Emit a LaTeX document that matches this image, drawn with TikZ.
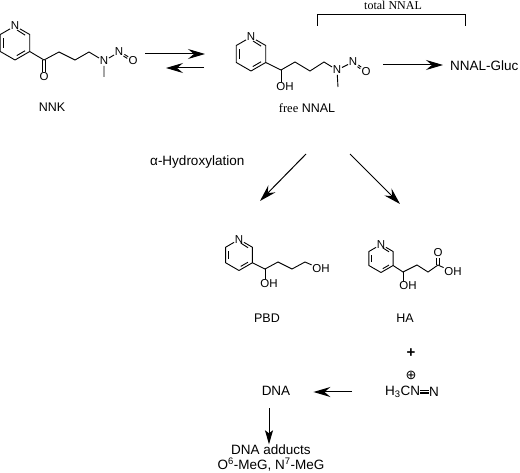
\documentclass[tikz,border=0pt]{standalone}
\usepackage{fontspec}
\usetikzlibrary{arrows.meta}
\setmainfont{Liberation Sans}
\newfontfamily\timesfont{Liberation Serif}
\newfontfamily\signfont{DejaVu Sans}
\begin{document}
\begin{tikzpicture}[
        x=1pt, y=-1pt,
        atom/.style={inner sep=0.6pt, font=\fontsize{11.5}{12}\selectfont},
        label/.style={inner sep=0pt, font=\fontsize{13.5}{15.5}\selectfont, align=center},
        smalllabel/.style={inner sep=0pt, font=\fontsize{12.5}{15}\selectfont},
        bond/.style={line width=0.9pt},
        arrow/.style={line width=1pt, -{Stealth[length=17pt, width=10pt, inset=6pt]}},
        smallarrow/.style={line width=0.9pt, -{Stealth[length=14pt, width=8pt, inset=3pt]}},
        pyridine/.pic={
            \node[atom] (N) at (-90:1) {N};
            \coordinate (C2) at (-30:1);
            \coordinate (C3) at (30:1);
            \coordinate (C4) at (90:1);
            \coordinate (C5) at (150:1);
            \coordinate (C6) at (-150:1);
            \draw[bond, line join=round] (N) -- (C2) -- (C3) -- (C4) -- (C5) -- (C6) -- (N);
            \draw[bond, shorten <=1pt, shorten >=2pt] (-85:0.8) -- (-30:0.8);
            \draw[bond, shorten <=2pt, shorten >=2pt] (30:0.8) -- (90:0.8);
            \draw[bond, shorten <=2pt, shorten >=2pt] (150:0.8) -- (-150:0.8);
        }
        ]
        \useasboundingbox (0,0) rectangle (520,473);

        % NNK
        \pic[scale=17] (k) at (15,43) {pyridine};
        \coordinate (k1) at (44,60);
        \node[atom] (kO) at (44,77) {O};
        \coordinate (k2) at (59,52);
        \coordinate (k3) at (75,60);
        \coordinate (k4) at (89,52);
        \node[atom] (kN) at (104,61) {N};
        \coordinate (kMe) at (104,77);
        \node[atom] (kNN) at (119,52) {N};
        \node[atom] (kNO) at (133,61) {O};
        \draw[bond] (kC3) -- (k1) -- (k2) -- (k3) -- (k4) -- (kN) -- (kMe);
        \foreach \s in {-1.1,1.1}
            \draw[bond, transform canvas={xshift=\s pt}] (k1) -- (kO);
        \draw[bond] (kN) -- (kNN);
        \foreach \s in {-1,1}
            \draw[bond, transform canvas={xshift=0.5*\s pt, yshift=0.8*\s pt}] (kNN) -- (kNO);
        \node[smalllabel] (nnk) at (52,107) {NNK};

        % free NNAL
        \pic[scale=17] (f) at (251,54) {pyridine};
        \coordinate (f1) at (281,70);
        \node[atom] (fOH) at (285,87) {OH};
        \coordinate (f2) at (295,62);
        \coordinate (f3) at (310,71);
        \coordinate (f4) at (324,62);
        \node[atom] (fN) at (337,70) {N};
        \coordinate (fMe) at (338,87);
        \node[atom] (fNN) at (353,62) {N};
        \node[atom] (fNO) at (366,72) {O};
        \draw[bond] (fC3) -- (f1) -- (f2) -- (f3) -- (f4) -- (fN) -- (fMe);
        \draw[bond] (f1) -- (f1 |- fOH.north);
        \draw[bond] (fN) -- (fNN);
        \foreach \s in {-1,1}
            \draw[bond, transform canvas={xshift=0.5*\s pt, yshift=0.8*\s pt}] (fNN) -- (fNO);
        \node[smalllabel] (nnal) at (307,108) {{\timesfont free} NNAL};

        % total NNAL bracket
        \node[inner sep=0pt, font=\timesfont\fontsize{12}{12}\selectfont] (total) at (393,5) {total NNAL};
        \coordinate (b1) at (317,26);
        \coordinate (b2) at (317,14);
        \coordinate (b3) at (465,14);
        \coordinate (b4) at (465,26);
        \draw[bond] (b1) -- (b2) -- (b3) -- (b4);

        % Gluc
        \node[label, anchor=west] (gluc) at (450,66) {NNAL-Gluc};
        \coordinate (g1) at (383,65);
        \draw[arrow, shorten >=7pt] (g1) -- (g1 -| gluc.west);

        % equilibrium arrows
        \coordinate (e1) at (145,54);
        \coordinate (e2) at (205,54);
        \coordinate (e3) at (204,68);
        \coordinate (e4) at (166,68);
        \draw[arrow] (e1) -- (e2);
        \draw[arrow] (e3) -- (e4);

        % Hydroxylation
        \node[label, anchor=west] (hydrox) at (150,162) {α-Hydroxylation};
        \coordinate (h1) at (306,154);
        \coordinate (h2) at (260,201);
        \coordinate (h3) at (350,154);
        \coordinate (h4) at (400,204);
        \draw[arrow] (h1) -- (h2);
        \draw[arrow] (h3) -- (h4);

        % PBD
        \pic[scale=15.5] (p) at (239,255) {pyridine};
        \coordinate (p1) at (265,269);
        \node[atom] (pOH) at (269,284) {OH};
        \coordinate (p2) at (278,262);
        \coordinate (p3) at (292,269);
        \coordinate (p4) at (305,262);
        \node[atom] (pOH2) at (321,269) {OH};
        \draw[bond] (pC3) -- (p1) -- (p2) -- (p3) -- (p4) -- (pOH2);
        \draw[bond] (p1) -- (p1 |- pOH.north);
        \node[smalllabel] (pbd) at (267,318) {PBD};

        % HA
        \pic[scale=14] (a) at (381,258.5) {pyridine};
        \coordinate (a1) at (403,272);
        \node[atom] (aOH) at (408,286) {OH};
        \coordinate (a2) at (417,265);
        \coordinate (a3) at (428,272);
        \coordinate (a4) at (438,265);
        \node[atom] (aO) at (438,253) {O};
        \node[atom] (aOH2) at (453,272) {OH};
        \draw[bond] (aC3) -- (a1) -- (a2) -- (a3) -- (a4) -- (aOH2);
        \draw[bond] (a1) -- (a1 |- aOH.north);
        \foreach \s in {-1.1,1.1}
            \draw[bond, transform canvas={xshift=\s pt}] (a4) -- (aO);
        \node[smalllabel] (ha) at (405,318) {HA};

        % diazonium
        \node[inner sep=0pt, font=\bfseries\fontsize{15}{15}\selectfont] (plus) at (411,353) {+};
        \node[inner sep=0pt, font=\signfont\fontsize{13}{13}\selectfont] (charge) at (411,375) {⊕};
        \node[label, anchor=west] (meth) at (385,392) {H\textsubscript{3}CN};
        \node[label, anchor=east] (nitro) at (439,392) {N};
        \foreach \s in {-1.2,0,1.2}
            \draw[bond, transform canvas={yshift=\s pt}] (meth) -- (nitro);

        % DNA
        \node[label] (dna) at (276,391) {DNA};
        \node[label] (adducts) at (271,458) {DNA adducts\\O\textsuperscript{6}-MeG, N\textsuperscript{7}-MeG};
        \draw[arrow, shorten >=23pt, shorten <=33pt] (meth.west) -- (dna.east |- meth.west);
        \coordinate (d1) at (269,408);
        \draw[smallarrow] (d1) -- (d1 |- adducts.north);
\end{tikzpicture}
\end{document}
